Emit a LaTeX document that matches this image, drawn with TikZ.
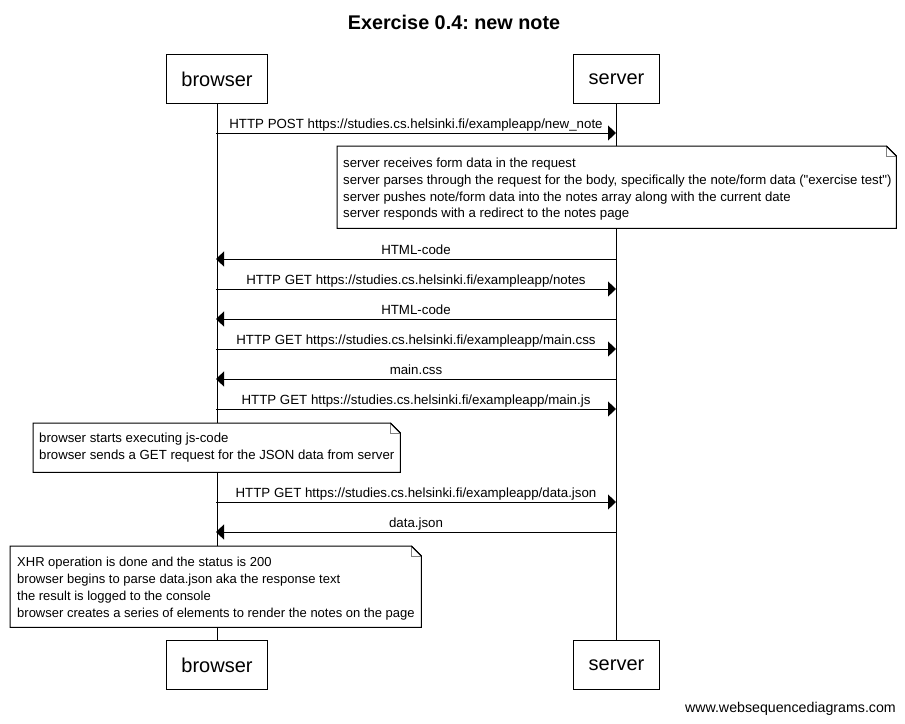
\documentclass[tikz,border=0pt]{standalone}
\usepackage{fontspec}
\setmainfont{Liberation Sans}
\usetikzlibrary{arrows.meta}
\frenchspacing

\tikzset{
  actor/.style={draw=black, line width=1pt, fill=white, inner sep=0pt,
    minimum height=49pt, font=\fontsize{20}{24}\selectfont},
  lifeline/.style={draw=black, line width=1pt},
  msg/.style={draw=black, line width=1pt, -{Triangle[length=8pt,width=15pt]}},
  msglabel/.style={anchor=base, inner sep=0pt, font=\fontsize{13.3}{17}\selectfont},
  notebox/.style={anchor=north west, fill=white, inner sep=0pt},
  notetext/.style={anchor=west, inner sep=0pt, align=left,
    font=\fontsize{13.2}{16.8}\selectfont},
  noteline/.style={draw=black, line width=1pt},
  foldline/.style={draw=gray, line width=1pt},
}

% dog-eared outline around a note node
\newcommand\dogear[1]{%
  \draw[noteline] (#1.north west) -- ([xshift=-10pt]#1.north east)
    -- ([yshift=-10pt]#1.north east) -- (#1.south east) -- (#1.south west) -- cycle;
  \draw[foldline] ([xshift=-10pt]#1.north east) -- ([xshift=-10pt,yshift=-10pt]#1.north east)
    -- ([yshift=-10pt]#1.north east);
  \draw[noteline] ([xshift=-10pt]#1.north east) -- ([yshift=-10pt]#1.north east);
}

\begin{document}
\begin{tikzpicture}[x=1pt, y=-1pt]
  \useasboundingbox[fill=white] (0,0) rectangle (905,723);

  % title
  \node[font=\bfseries\fontsize{19.8}{24}\selectfont, anchor=base] (title) at (454,29) {Exercise 0.4: new note};

  % participants
  \node[actor, minimum width=101pt, anchor=north west] (bt) at (166,54) {browser};
  \node[actor, minimum width=86pt, anchor=north west] (st) at (573,54) {server};
  \node[actor, minimum width=101pt, anchor=north west] (bb) at (166,640) {browser};
  \node[actor, minimum width=86pt, anchor=north west] (sb) at (573,640) {server};

  % lifelines
  \draw[lifeline] (bt.south) -- (bb.north);
  \draw[lifeline] (st.south) -- (sb.north);

  % message end points on the lifelines
  \foreach \n/\y in {1/133, 2/259, 3/289, 4/319, 5/349, 6/379, 7/409, 8/502, 9/532} {
    \coordinate (b\n) at (216,\y);
    \coordinate (s\n) at (616,\y);
  }

  % messages
  \draw[msg] (b1) -- (s1);
  \node[msglabel] (l1) at (416,128) {HTTP POST https://studies.cs.helsinki.fi/exampleapp/new\_note};

  % server note
  \node[notebox, minimum height=82pt, minimum width=559pt] (n1) at (337,146) {};
  \dogear{n1}
  \node[notetext] (n1t) at ([xshift=6pt,yshift=-2pt]n1.west)
    {server receives form data in the request\\
     server parses through the request for the body, specifically the note/form data (\textquotedbl exercise test\textquotedbl)\\
     server pushes note/form data into the notes array along with the current date\\
     server responds with a redirect to the notes page};

  \draw[msg] (s2) -- (b2);
  \node[msglabel] (l2) at (416,254) {HTML-code};
  \draw[msg] (b3) -- (s3);
  \node[msglabel] (l3) at (416,284) {HTTP GET https://studies.cs.helsinki.fi/exampleapp/notes};
  \draw[msg] (s4) -- (b4);
  \node[msglabel] (l4) at (416,314) {HTML-code};
  \draw[msg] (b5) -- (s5);
  \node[msglabel] (l5) at (416,344) {HTTP GET https://studies.cs.helsinki.fi/exampleapp/main.css};
  \draw[msg] (s6) -- (b6);
  \node[msglabel] (l6) at (416,374) {main.css};
  \draw[msg] (b7) -- (s7);
  \node[msglabel] (l7) at (416,404) {HTTP GET https://studies.cs.helsinki.fi/exampleapp/main.js};

  % browser note
  \node[notebox, minimum height=49pt, minimum width=367pt] (n2) at (33,423) {};
  \dogear{n2}
  \node[notetext] (n2t) at ([xshift=6pt,yshift=0.5pt]n2.west)
    {browser starts executing js-code\\
     browser sends a GET request for the JSON data from server};

  \draw[msg] (b8) -- (s8);
  \node[msglabel] (l8) at (416,497) {HTTP GET https://studies.cs.helsinki.fi/exampleapp/data.json};
  \draw[msg] (s9) -- (b9);
  \node[msglabel] (l9) at (416,527) {data.json};

  % final note
  \node[notebox, minimum height=81pt, minimum width=411pt] (n3) at (10,546) {};
  \dogear{n3}
  \node[notetext, font=\fontsize{13}{16.8}\selectfont] (n3t) at ([xshift=7pt,yshift=-2pt]n3.west)
    {XHR operation is done and the status is 200\\
     browser begins to parse data.json aka the response text\\
     the result is logged to the console\\
     browser creates a series of elements to render the notes on the page};

  % footer
  \node[anchor=base east, inner sep=0pt, font=\fontsize{14.2}{17}\selectfont] (wm) at (896,712) {www.websequencediagrams.com};
\end{tikzpicture}
\end{document}
